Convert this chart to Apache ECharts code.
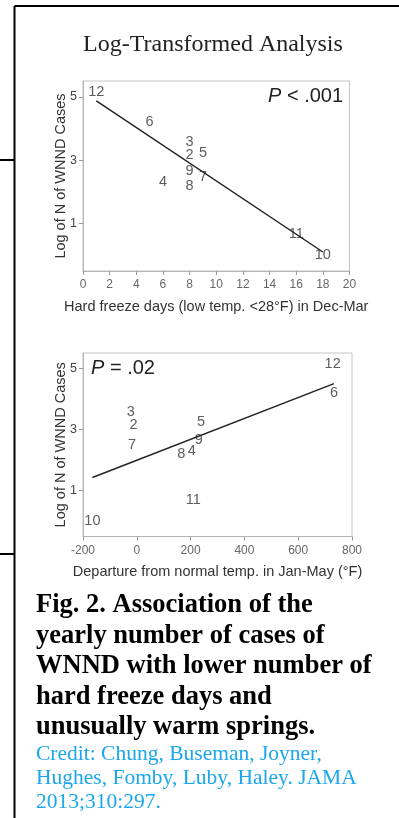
<!DOCTYPE html>
<html>
<head>
<meta charset="utf-8">
<script src="https://cdn.jsdelivr.net/npm/echarts@6/dist/echarts.min.js"></script>
<style>
  html, body { margin: 0; padding: 0; background: #fff; }
  #chart { width: 399px; height: 818px; }
</style>
</head>
<body>
<div id="chart"></div>
<script>
// Year labels (2002-2012 shown as 2..12) and the log of yearly WNND case counts
const yearLabels = ['12', '6', '3', '2', '5', '9', '7', '4', '8', '11', '10'];
const logCases = [5.14, 4.2, 3.57, 3.16, 3.23, 2.67, 2.48, 2.3, 2.2, 0.68, 0.0];

// Predictors
const freezeDays = [1, 5, 8, 8, 9, 8, 9, 6, 8, 16, 18];
const tempDeparture = [728, 733, -22, -12, 239, 230, -18, 204, 165, 210, -165];

// Fitted regression lines (end points)
const freezeFit = [[1, 4.87], [18, 0.1]];
const departureFit = [[-165, 1.43], [733, 4.5]];

// Axis ticks
const yTicks = [1, 3, 5];
const freezeTicks = { min: 0, max: 20, interval: 2 };
const departureTicks = { min: -200, max: 800, interval: 200 };

const titleText = 'Log-Transformed Analysis';
const yTitle = 'Log of N of WNND Cases';
const freezeTitle = 'Hard freeze days (low temp. <28\u00B0F) in Dec-Mar';
const departureTitle = 'Departure from normal temp. in Jan-May (\u00B0F)';
const captionLines = [
  'Fig. 2. Association of the',
  'yearly number of cases of',
  'WNND with lower number of',
  'hard freeze days and',
  'unusually warm springs.'
];
const creditLines = [
  'Credit: Chung, Buseman, Joyner,',
  'Hughes, Fomby, Luby, Haley. JAMA',
  '2013;310:297.'
];

const SANS = '"Liberation Sans", Arial, sans-serif';
const SERIF = '"Liberation Serif", "Times New Roman", serif';

function points(xs) {
  return xs.map((x, i) => ({ value: [x, logCases[i]], name: yearLabels[i] }));
}

function makeY(gridIndex) {
  return {
    type: 'value', gridIndex, min: -0.5, max: 5.5,
    name: yTitle, nameLocation: 'middle', nameGap: 15, nameMoveOverlap: false,
    nameTextStyle: { fontFamily: SANS, fontSize: 14.5, color: '#333' },
    axisLine: { show: true, onZero: false, lineStyle: { color: '#b5b5b5', width: 1 } },
    axisTick: { show: true, length: 4, customValues: yTicks, lineStyle: { color: '#9a9a9a' } },
    axisLabel: { customValues: yTicks, margin: 6, fontFamily: SANS, fontSize: 12.5, color: '#444' },
    splitLine: { show: false }
  };
}

function makeX(gridIndex, ticks, title) {
  return {
    type: 'value', gridIndex, min: ticks.min, max: ticks.max, interval: ticks.interval,
    name: title, nameLocation: 'middle', nameGap: 28, nameMoveOverlap: false,
    nameTextStyle: { fontFamily: SANS, fontSize: 14.5, color: '#333' },
    axisLine: { show: true, onZero: false, lineStyle: { color: '#b5b5b5', width: 1 } },
    axisTick: { show: true, length: 4, lineStyle: { color: '#9a9a9a' } },
    axisLabel: { margin: 8, fontFamily: SANS, fontSize: 12, color: '#666', showMinLabel: true, showMaxLabel: true },
    splitLine: { show: false }
  };
}

function labelSeries(xi, xs) {
  return {
    type: 'scatter', xAxisIndex: xi, yAxisIndex: xi,
    symbolSize: 1, itemStyle: { color: 'rgba(0,0,0,0)' },
    data: points(xs),
    label: {
      show: true, position: 'inside', formatter: p => p.name,
      fontFamily: SANS, fontSize: 14.5, color: '#333'
    },
    silent: true, z: 3
  };
}

function fitSeries(xi, data) {
  return {
    type: 'line', xAxisIndex: xi, yAxisIndex: xi, data,
    showSymbol: false, symbol: 'none',
    lineStyle: { color: '#222', width: 1.5 }, silent: true, z: 4
  };
}

const frame = [
  [14.5, 6, 399, 6],
  [14.5, 6, 14.5, 818],
  [0, 160, 14.5, 160],
  [0, 554, 14.5, 554]
].map(([x1, y1, x2, y2]) => ({
  type: 'line', shape: { x1, y1, x2, y2 }, style: { stroke: '#000', lineWidth: 2 }
}));

const captionGraphics = captionLines.map((t, i) => ({
  type: 'text', left: 36, top: 592 + i * 30.5,
  style: { text: t, font: 'bold 26.5px ' + SERIF, fill: '#000' }
}));
const creditGraphics = creditLines.map((t, i) => ({
  type: 'text', left: 36, top: 743.5 + i * 24,
  style: { text: t, font: '21.5px ' + SERIF, fill: '#1aa7ec' }
}));

const chart = echarts.init(document.getElementById('chart'), null, { renderer: 'canvas' });
chart.setOption({
  backgroundColor: '#fff',
  animation: false,
  title: {
    text: titleText, left: 208, top: 28, textAlign: 'center',
    textStyle: { fontFamily: SERIF, fontSize: 24, fontWeight: 'normal', color: '#222' }
  },
  grid: [
    { left: 83, top: 81, width: 266.5, height: 190, show: true, borderColor: '#c4c4c4', borderWidth: 1 },
    { left: 83, top: 353, width: 269, height: 183.6, show: true, borderColor: '#c4c4c4', borderWidth: 1 }
  ],
  xAxis: [makeX(0, freezeTicks, freezeTitle), makeX(1, departureTicks, departureTitle)],
  yAxis: [makeY(0), makeY(1)],
  series: [
    labelSeries(0, freezeDays),
    fitSeries(0, freezeFit),
    labelSeries(1, tempDeparture),
    fitSeries(1, departureFit)
  ],
  graphic: [
    ...frame,
    {
      type: 'text', left: 268, top: 86,
      style: {
        text: '{i|P} < .001', font: '20px ' + SANS, fill: '#222',
        rich: { i: { fontStyle: 'italic', fontFamily: SANS, fontSize: 20, fill: '#222' } }
      }
    },
    {
      type: 'text', left: 91, top: 358,
      style: {
        text: '{i|P} = .02', font: '20px ' + SANS, fill: '#222',
        rich: { i: { fontStyle: 'italic', fontFamily: SANS, fontSize: 20, fill: '#222' } }
      }
    },
    ...captionGraphics,
    ...creditGraphics
  ]
});
</script>
</body>
</html>
